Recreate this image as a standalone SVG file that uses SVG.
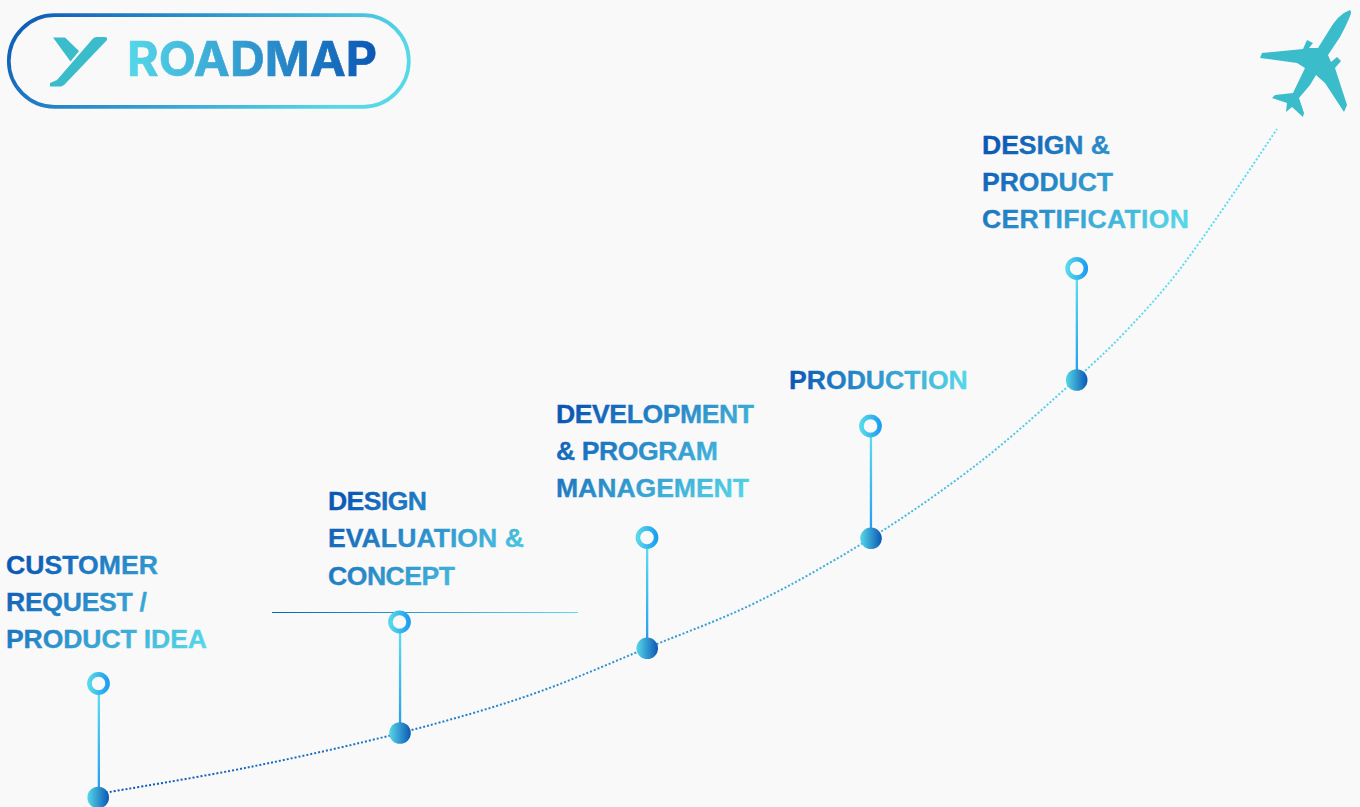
<svg xmlns="http://www.w3.org/2000/svg" width="1360" height="807" viewBox="0 0 1360 807">
<style>
.lbl{font-family:"Liberation Sans",Arial,sans-serif;font-weight:700;font-size:26.6px;stroke-width:.35px}
.stem{fill:url(#stemG)}
.ring{fill:#f9f9f9;stroke:url(#ringG);stroke-width:4.600}
.dot{fill:url(#dotG)}
</style>
<defs>
<linearGradient id="pill" x1="0" y1="0" x2="1" y2="0.25"><stop offset="0" stop-color="#0b57b4"/><stop offset="1" stop-color="#56d8e8"/></linearGradient>
<linearGradient id="road" gradientUnits="userSpaceOnUse" x1="127" y1="0" x2="377" y2="0"><stop offset="0" stop-color="#56d8e8"/><stop offset="1" stop-color="#0b57b4"/></linearGradient>
<linearGradient id="ringG" x1="0" y1="0" x2="1" y2="0"><stop offset="0" stop-color="#56d8ea"/><stop offset="1" stop-color="#1f9ff0"/></linearGradient>
<linearGradient id="stemG" x1="0" y1="0" x2="0" y2="1"><stop offset="0" stop-color="#5cdcf0"/><stop offset="1" stop-color="#2a9df0"/></linearGradient>
<linearGradient id="dotG" x1="0" y1="0" x2="1" y2="0"><stop offset="0" stop-color="#56d8e8"/><stop offset="1" stop-color="#0b57b4"/></linearGradient>
<linearGradient id="curveG" gradientUnits="userSpaceOnUse" x1="98" y1="797" x2="1276" y2="130"><stop offset="0" stop-color="#0b57b4"/><stop offset=".85" stop-color="#5cdcf0"/></linearGradient>
<linearGradient id="ruleG" gradientUnits="userSpaceOnUse" x1="272" y1="0" x2="578" y2="0"><stop offset="0" stop-color="#0b62bd"/><stop offset="1" stop-color="#5cdcf0"/></linearGradient>
<linearGradient id="t1" gradientUnits="userSpaceOnUse" x1="6" y1="574" x2="131" y2="712"><stop offset="0" stop-color="#0b57b4"/><stop offset="1" stop-color="#56d8e8"/></linearGradient>
<linearGradient id="t2" gradientUnits="userSpaceOnUse" x1="328" y1="510" x2="450" y2="648"><stop offset="0" stop-color="#0b57b4"/><stop offset="1" stop-color="#56d8e8"/></linearGradient>
<linearGradient id="t3" gradientUnits="userSpaceOnUse" x1="556" y1="423" x2="679" y2="560"><stop offset="0" stop-color="#0b57b4"/><stop offset="1" stop-color="#56d8e8"/></linearGradient>
<linearGradient id="t4" gradientUnits="userSpaceOnUse" x1="789" y1="0" x2="968" y2="0"><stop offset="0" stop-color="#0b57b4"/><stop offset="1" stop-color="#56d8e8"/></linearGradient>
<linearGradient id="t5" gradientUnits="userSpaceOnUse" x1="982" y1="154" x2="1110" y2="292"><stop offset="0" stop-color="#0b57b4"/><stop offset="1" stop-color="#56d8e8"/></linearGradient>
</defs>
<rect width="1360" height="807" fill="#f9f9f9"/>
<g id="logo">
<rect x="8.800" y="15.200" width="400" height="91.600" rx="45.800" fill="none" stroke="url(#pill)" stroke-width="3.700"/>
<path d="M53 37.500H65L79 51L70.500 61.500Z M93 38.500Q94 37 97 37H105Q107.500 37 107 40L66 83Q64 86 61 86.500H50V83L57 80Z" fill="#3abccb"/>
<text x="127" y="76" fill="url(#road)" stroke="url(#road)" stroke-width=".6" font-family="Inter,sans-serif" font-weight="700" font-size="48" textLength="250" lengthAdjust="spacingAndGlyphs">ROADMAP</text>
</g>
<g id="connectors">
<path d="M98 794C123 789.500 199.700 777.200 250 767C300.300 756.800 353.300 745 400 733C446.700 721 488.800 709.200 530 695C571.200 680.800 609.200 663.500 647 648C684.800 632.500 719.700 620.300 757 602C794.300 583.700 833.800 561.300 871 538C908.200 514.700 945.800 488.500 980 462C1014.200 435.500 1051.500 401 1076 379C1100.500 357 1110.200 347.700 1127 330C1143.800 312.300 1160.300 294.200 1177 273C1193.700 251.200 1210.300 227 1227 203C1243.700 179 1268.700 141.300 1277 129" fill="none" stroke="url(#curveG)" stroke-width="2" stroke-dasharray="2 2"/>
<line x1="272" y1="612.500" x2="578" y2="612.500" stroke="url(#ruleG)" stroke-width="1"/>
</g>
<g id="node-1"><text class="lbl" fill="url(#t1)" stroke="url(#t1)"><tspan x="6" y="573.700" textLength="152">CUSTOMER</tspan><tspan x="6" y="610.700" textLength="141">REQUEST /</tspan><tspan x="6" y="648.200" textLength="201">PRODUCT IDEA</tspan></text>
<rect class="stem" x="97.700" y="694" width="2.300" height="94"/><circle class="ring" cx="98.500" cy="683.500" r="9.100"/><circle class="dot" cx="98.200" cy="797.500" r="10.800"/></g>
<g id="node-2"><text class="lbl" fill="url(#t2)" stroke="url(#t2)"><tspan x="328" y="509.700" textLength="99">DESIGN</tspan><tspan x="328" y="546.700" textLength="196">EVALUATION &amp;</tspan><tspan x="328" y="584.700" textLength="127">CONCEPT</tspan></text>
<rect class="stem" x="398.900" y="632" width="2.300" height="92"/><circle class="ring" cx="399.500" cy="622" r="9.100"/><circle class="dot" cx="400" cy="733" r="10.800"/></g>
<g id="node-3"><text class="lbl" fill="url(#t3)" stroke="url(#t3)"><tspan x="556" y="422.700" textLength="198">DEVELOPMENT</tspan><tspan x="556" y="459.700" textLength="162">&amp; PROGRAM</tspan><tspan x="556" y="496.700" textLength="193">MANAGEMENT</tspan></text>
<rect class="stem" x="646" y="547" width="2.300" height="92"/><circle class="ring" cx="647" cy="537.500" r="9.100"/><circle class="dot" cx="647.200" cy="648.300" r="10.800"/></g>
<g id="node-4"><text class="lbl" fill="url(#t4)" stroke="url(#t4)" x="789" y="388.700">PRODUCTION</text>
<rect class="stem" x="869.800" y="436" width="2.300" height="93"/><circle class="ring" cx="870.500" cy="426" r="9.100"/><circle class="dot" cx="871" cy="538.300" r="10.800"/></g>
<g id="node-5"><text class="lbl" fill="url(#t5)" stroke="url(#t5)"><tspan x="982" y="153.700" textLength="128">DESIGN &amp;</tspan><tspan x="982" y="190.700" textLength="131">PRODUCT</tspan><tspan x="982" y="228.200" textLength="207">CERTIFICATION</tspan></text>
<rect class="stem" x="1075.700" y="278" width="2.300" height="92"/><circle class="ring" cx="1076.700" cy="268.400" r="9.100"/><circle class="dot" cx="1076.700" cy="380" r="10.800"/></g>
<g id="plane"><path d="M1350 10Q1352 12 1350 16Q1347 24 1340 37L1328 55L1331 62L1337 57L1341 61L1335 68L1347 105L1344 112L1325 83L1316 75L1310 85L1299 98L1304 113L1303 117L1292 107L1286 112L1287 103L1272 98L1275 95L1293 93L1305 68L1297 63L1260 58L1262 53L1303 49L1307 40L1313 43L1309 48L1318 48L1328 32Q1338 14 1350 10Z" fill="#3abccb"/></g>
</svg>
